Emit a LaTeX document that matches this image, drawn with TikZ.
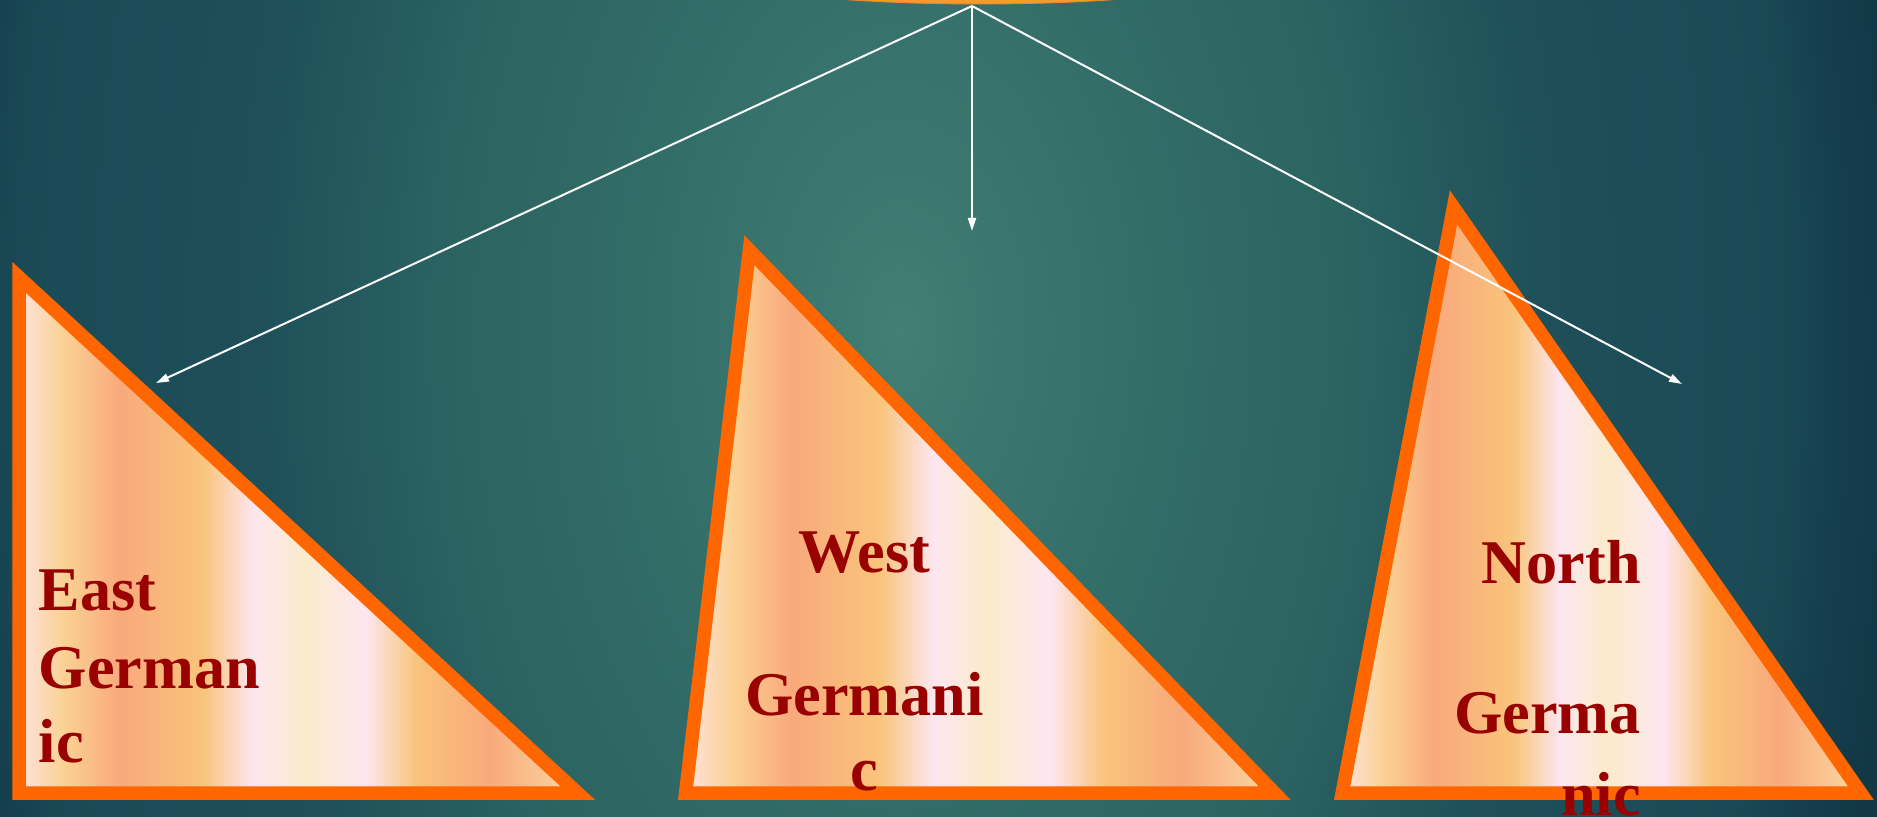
\documentclass[tikz,border=0pt]{standalone}
\usepackage{fontspec}
\usetikzlibrary{arrows.meta,shapes.geometric}
\newfontfamily\lblserif{Liberation Serif}
\definecolor{bg0}{HTML}{427F74}
\definecolor{bg1}{HTML}{3D7A70}
\definecolor{bg2}{HTML}{38736D}
\definecolor{bg3}{HTML}{2F6864}
\definecolor{bg4}{HTML}{2C6462}
\definecolor{bg5}{HTML}{1F505A}
\definecolor{bg6}{HTML}{1A4A55}
\definecolor{bg7}{HTML}{153E4C}
\definecolor{bg8}{HTML}{123846}
\definecolor{s0}{HTML}{FDE3DD}
\definecolor{s1}{HTML}{FBD193}
\definecolor{s2}{HTML}{F9A97C}
\definecolor{s3}{HTML}{F9C47B}
\definecolor{s4}{HTML}{FDE6F0}
\definecolor{s5}{HTML}{FBEBCB}
\definecolor{s6}{HTML}{FBD9A2}
\definecolor{triorange}{HTML}{FF6600}
\definecolor{rootorange}{HTML}{F49B2C}
\definecolor{rootedge}{HTML}{E8892A}
\definecolor{txtred}{HTML}{990000}
\pgfdeclareradialshading{bgshade}{\pgfpoint{0bp}{0bp}}{color(0bp)=(bg0); color(1.4bp)=(bg1); color(4bp)=(bg2); color(8.5bp)=(bg3); color(11bp)=(bg4); color(16bp)=(bg5); color(22bp)=(bg6); color(23.5bp)=(bg7); color(25bp)=(bg8); color(50bp)=(bg8)}
\pgfdeclarehorizontalshading{stripes}{100bp}{color(0bp)=(s0); color(25bp)=(s0); color(29bp)=(s1); color(34bp)=(s2); color(41.5bp)=(s3); color(46bp)=(s4); color(50.5bp)=(s5); color(56bp)=(s4); color(60.5bp)=(s3); color(67bp)=(s2); color(75bp)=(s6); color(100bp)=(s6)}
\tikzset{
  tri/.style={shade, shading=stripes, draw=triorange, line width=0.27cm, line join=miter},
  lbl/.style={font=\lblserif\bfseries\fontsize{35.4pt}{42pt}\selectfont, text=txtred, inner sep=0pt},
  link/.style={draw=white, line width=0.04cm, -{Triangle[length=0.26cm,width=0.16cm]}},
  rootshape/.style={ellipse, fill=rootorange, draw=rootedge, line width=0.5pt, minimum width=10cm, minimum height=1.12cm, inner sep=0pt}
}
\begin{document}
\begin{tikzpicture}[x=0.02cm,y=-0.02cm]
\useasboundingbox (0,0) rectangle (1877,817);
\clip (0,0) rectangle (1877,817);
% background: radial shading centred near (900,330), stretched vertically
\fill[shading=bgshade] (-100,-1337) rectangle (1900,1997);
% root (mostly off the top)
\node[rootshape] (root) at (980,-24) {};
% triangles
\path[tri] (19.2,277.4) -- (19.2,793) -- (577.7,793) -- cycle;
\path[tri] (749.4,250.2) -- (685.6,793) -- (1274.6,793) -- cycle;
\path[tri] (1453.5,207.3) -- (1342.2,793) -- (1860.8,793) -- cycle;
% labels
\node[lbl, anchor=base west] (e1t) at (38.5,610.5) {East};
\node[lbl, anchor=base west] (e2t) at (38.5,688) {German};
\node[lbl, anchor=base west] (e3t) at (38.5,762.5) {ic};
\node[lbl, anchor=base] (w1t) at (864.5,572) {West};
\node[lbl, anchor=base] (w2t) at (864.5,715) {Germani};
\node[lbl, anchor=base] (w3t) at (864.5,790) {c};
\node[lbl, anchor=base east] (n1t) at (1641,583) {North};
\node[lbl, anchor=base east] (n2t) at (1641,733) {Germa};
\node[lbl, anchor=base east] (n3t) at (1641,815) {nic};
% connectors
\coordinate (apex) at (972,6);
\coordinate (eastend) at (156,383);
\coordinate (westend) at (972,231);
\coordinate (northend) at (1682,384);
\draw[link] (apex) -- (eastend);
\draw[link] (apex) -- (westend);
\draw[link] (apex) -- (northend);
\end{tikzpicture}
\end{document}
